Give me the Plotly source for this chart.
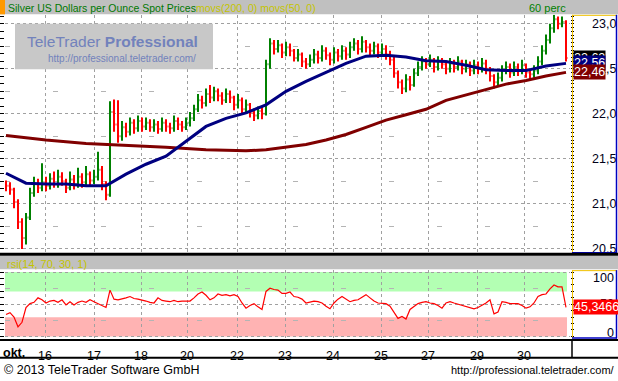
import plotly.graph_objects as go

W, H = 618, 381
FONT = "Liberation Sans"

# ---------------- data ----------------
bar_pos = list(range(141))
open_ = [21.22,21.20,21.16,21.02,20.80,20.62,20.85,21.12,21.22,21.18,
         21.24,21.20,21.28,21.22,21.30,21.25,21.18,21.27,21.22,21.30,
         21.24,21.33,21.26,21.30,21.38,21.22,21.10,22.02,21.88,21.75,
         21.85,21.80,21.90,21.84,21.92,21.86,21.90,21.85,21.88,21.83,
         21.90,21.86,21.84,21.92,21.88,21.85,21.90,21.95,22.05,22.15,
         22.12,22.22,22.18,22.25,22.20,22.15,22.22,22.18,22.10,22.15,
         22.05,22.10,22.02,21.98,22.03,22.00,22.55,22.78,22.72,22.76,
         22.68,22.74,22.70,22.62,22.66,22.58,22.55,22.60,22.66,22.62,
         22.70,22.65,22.60,22.68,22.64,22.70,22.66,22.74,22.78,22.72,
         22.80,22.74,22.70,22.75,22.68,22.72,22.66,22.60,22.45,22.35,
         22.28,22.38,22.32,22.45,22.52,22.58,22.55,22.60,22.52,22.58,
         22.55,22.50,22.56,22.52,22.58,22.50,22.55,22.48,22.54,22.50,
         22.56,22.50,22.42,22.35,22.40,22.48,22.52,22.46,22.52,22.48,
         22.54,22.46,22.44,22.48,22.58,22.70,22.82,22.95,23.05,23.00,
         23.02]
high = [21.26,21.24,21.18,21.05,20.84,20.90,21.18,21.30,21.28,21.45,
        21.30,21.34,21.36,21.38,21.35,21.28,21.36,21.32,21.40,21.34,
        21.42,21.36,21.38,21.58,21.42,21.25,22.14,22.16,22.15,21.92,
        21.90,21.96,21.94,21.98,21.96,21.96,21.94,21.94,21.92,21.96,
        21.94,21.90,21.98,21.96,21.92,21.96,22.02,22.10,22.22,22.20,
        22.28,22.32,22.30,22.28,22.24,22.28,22.26,22.20,22.22,22.18,
        22.16,22.12,22.06,22.08,22.08,22.60,22.84,22.82,22.82,22.78,
        22.80,22.78,22.72,22.72,22.68,22.62,22.66,22.72,22.70,22.76,
        22.74,22.68,22.74,22.72,22.76,22.74,22.80,22.84,22.82,22.86,
        22.82,22.78,22.80,22.78,22.78,22.76,22.70,22.64,22.48,22.38,
        22.44,22.42,22.50,22.58,22.64,22.62,22.66,22.62,22.64,22.62,
        22.58,22.62,22.60,22.64,22.60,22.60,22.58,22.60,22.58,22.62,
        22.60,22.52,22.44,22.46,22.54,22.58,22.56,22.58,22.56,22.60,
        22.56,22.50,22.54,22.64,22.76,22.88,23.00,23.10,23.08,23.08,
        23.04]
low = [21.14,21.10,20.95,20.72,20.50,20.55,20.82,21.08,21.12,21.14,
       21.14,21.16,21.18,21.18,21.20,21.12,21.15,21.16,21.18,21.18,
       21.20,21.20,21.22,21.26,21.15,21.04,21.08,21.80,21.68,21.70,
       21.74,21.76,21.78,21.80,21.80,21.82,21.80,21.80,21.78,21.80,
       21.80,21.78,21.80,21.82,21.80,21.82,21.86,21.92,22.02,22.06,
       22.08,22.12,22.14,22.14,22.10,22.12,22.12,22.04,22.06,22.00,
       22.00,21.96,21.92,21.94,21.94,21.98,22.50,22.66,22.68,22.62,
       22.64,22.64,22.58,22.58,22.52,22.50,22.52,22.56,22.56,22.58,
       22.60,22.54,22.56,22.58,22.60,22.60,22.62,22.70,22.66,22.68,
       22.68,22.64,22.66,22.62,22.64,22.60,22.54,22.40,22.28,22.22,
       22.24,22.26,22.30,22.42,22.48,22.50,22.52,22.46,22.48,22.50,
       22.44,22.46,22.46,22.48,22.44,22.46,22.42,22.44,22.44,22.46,
       22.44,22.36,22.28,22.30,22.36,22.44,22.40,22.42,22.42,22.44,
       22.40,22.38,22.40,22.44,22.54,22.66,22.78,22.90,22.94,22.96,
       22.58]
close = [21.20,21.16,21.02,20.80,20.62,20.85,21.12,21.22,21.18,21.24,
         21.20,21.28,21.22,21.30,21.25,21.18,21.27,21.22,21.30,21.24,
         21.33,21.26,21.30,21.38,21.22,21.10,22.02,21.88,21.75,21.85,
         21.80,21.90,21.84,21.92,21.86,21.90,21.85,21.88,21.83,21.90,
         21.86,21.84,21.92,21.88,21.85,21.90,21.95,22.05,22.15,22.12,
         22.22,22.18,22.25,22.20,22.15,22.22,22.18,22.10,22.15,22.05,
         22.10,22.02,21.98,22.03,22.00,22.55,22.78,22.72,22.76,22.68,
         22.74,22.70,22.62,22.66,22.58,22.55,22.60,22.66,22.62,22.70,
         22.65,22.60,22.68,22.64,22.70,22.66,22.74,22.78,22.72,22.80,
         22.74,22.70,22.75,22.68,22.72,22.66,22.60,22.45,22.35,22.28,
         22.38,22.32,22.45,22.52,22.58,22.55,22.60,22.52,22.58,22.55,
         22.50,22.56,22.52,22.58,22.50,22.55,22.48,22.54,22.50,22.56,
         22.50,22.42,22.35,22.40,22.48,22.52,22.46,22.52,22.48,22.54,
         22.46,22.44,22.48,22.58,22.70,22.82,22.95,23.05,23.00,23.02,
         22.62]

ma50_pos = [0,5,10,15,20,25,30,35,40,45,50,55,60,65,70,75,80,85,90,95,
            100,105,110,115,120,125,130,135,140]
ma50 = [21.34,21.23,21.22,21.22,21.20,21.20,21.33,21.44,21.53,21.70,
        21.86,21.95,22.01,22.10,22.25,22.36,22.46,22.56,22.64,22.65,
        22.63,22.59,22.58,22.54,22.49,22.48,22.48,22.53,22.56]

ma200_pos = [0,10,20,30,40,50,60,65,70,75,80,85,90,95,100,105,110,115,
             120,125,130,135,140]
ma200 = [21.76,21.71,21.67,21.65,21.63,21.60,21.59,21.60,21.63,21.66,
         21.71,21.77,21.85,21.93,21.99,22.05,22.15,22.21,22.27,22.33,
         22.37,22.42,22.46]

rsi = [34,37,30,15,22,45,51,53,60,57,
       52,55,56,53,57,49,54,49,53,55,
       53,57,54,51,48,45,72,58,57,58,
       60,62,59,58,57,55,53,52,60,56,
       55,54,56,54,55,55,55,60,66,69,
       64,57,60,66,64,65,63,65,62,52,
       44,48,51,46,42,70,75,73,72,67,
       67,69,62,61,58,52,53,55,54,52,
       47,43,52,58,62,58,54,56,57,61,
       65,60,55,52,51,51,47,38,28,31,
       27,42,47,51,53,54,52,51,48,44,
       52,54,52,50,48,46,44,43,45,48,
       52,57,35,38,54,53,51,51,51,48,
       44,46,52,62,65,66,74,80,77,77,
       45.3466]

day_tick_pos = [9.75, 22, 33.75, 45.25, 57.75, 69.75, 81.75, 93.75, 105.5, 117.75, 129.5]
day_tick_text = ["16", "17", "18", "20", "22", "23", "24", "25", "27", "29", "30"]
month_label = "okt."

last_close = 22.62
last_ma50 = 22.56
last_ma200 = 22.46
last_rsi = 45.3466

title_text = "Silver US Dollars per Ounce Spot Prices"
ind_text = "movs(200, 0) movs(50, 0)"
period_text = "60 perc"
rsi_title = "rsi(14, 70, 30, 1)"


def px(x):
    return x / W


def py(y):
    return 1 - y / H


def dec(v, n):
    return f"{v:.{n}f}".replace(".", ",")


GRID = "#a0a0a0"
GREEN = "#008000"
RED = "#ff0000"
NAVY = "#000080"
MAROON = "#800000"
OLIVE = "#c4c400"
YEL = "#f0c000"
BLUE = "#0000c0"

fig = go.Figure()

fig.add_trace(go.Ohlc(
    x=bar_pos, open=open_, high=high, low=low, close=close,
    xaxis="x", yaxis="y",
    increasing=dict(line=dict(color=GREEN, width=2)),
    decreasing=dict(line=dict(color=RED, width=2)),
    tickwidth=0.35, showlegend=False, hoverinfo="skip"))
fig.add_trace(go.Scatter(x=ma200_pos, y=ma200, mode="lines", line=dict(color=MAROON, width=3),
                         xaxis="x", yaxis="y", showlegend=False, hoverinfo="skip"))
fig.add_trace(go.Scatter(x=ma50_pos, y=ma50, mode="lines", line=dict(color=NAVY, width=3),
                         xaxis="x", yaxis="y", showlegend=False, hoverinfo="skip"))
fig.add_trace(go.Scatter(x=bar_pos, y=rsi, mode="lines", line=dict(color=RED, width=1.2),
                         xaxis="x2", yaxis="y2", showlegend=False, hoverinfo="skip"))
# invisible carriers for the tick-only axes
for ya, yy in (("y3", close), ("y4", close), ("y5", rsi), ("y6", rsi)):
    xa = "x" if ya in ("y3", "y4") else "x2"
    fig.add_trace(go.Scatter(x=bar_pos, y=yy, mode="lines", line=dict(width=0), opacity=0,
                             xaxis=xa, yaxis=ya, showlegend=False, hoverinfo="skip"))

main_range = [20.462, 23.099]
rsi_range = [-3.1, 103.1]
xr = [-0.25, 141]

xaxis_common = dict(range=xr, tickvals=day_tick_pos, showgrid=True, gridcolor=GRID,
                    griddash="dot", gridwidth=1, zeroline=False, showline=False, ticks="",
                    fixedrange=True)

fig.update_layout(
    width=W, height=H, margin=dict(l=0, r=0, t=0, b=0),
    paper_bgcolor="white", plot_bgcolor="white",
    separators=",.", showlegend=False,
    font=dict(family=FONT, size=12, color="black"),
    xaxis=dict(domain=[px(5), px(570)], anchor="y", showticklabels=False,
               rangeslider=dict(visible=False), **xaxis_common),
    xaxis2=dict(domain=[px(5), px(570)], anchor="y2", matches="x", showticklabels=True,
                ticktext=day_tick_text, tickfont=dict(size=12.5, color="black"),
                ticklabelstandoff=8, **xaxis_common),
    yaxis=dict(domain=[py(255), py(15)], anchor="x", range=main_range, side="right",
               tick0=20.5, dtick=0.5, tickformat=".1f", ticks="",
               tickfont=dict(size=12.5, color="#000018"), ticklabelstandoff=21,
               showgrid=True, gridcolor=GRID, griddash="dot", zeroline=False,
               minor=dict(tick0=20.5, dtick=0.25, showgrid=True, gridcolor="#b4b4b4",
                          griddash="5px,43px", ticks=""),
               fixedrange=True),
    yaxis3=dict(overlaying="y", anchor="x", side="left", range=main_range, tick0=23.0,
                dtick=0.0833, ticks="outside", ticklen=4, tickcolor="black", tickwidth=1,
                showticklabels=False, showgrid=False, zeroline=False, fixedrange=True),
    yaxis4=dict(overlaying="y", anchor="x", side="right", range=main_range, tick0=23.0,
                dtick=0.0417, ticks="outside", ticklen=3, tickcolor="black", tickwidth=1,
                showticklabels=False, showgrid=False, zeroline=False, fixedrange=True),
    yaxis2=dict(domain=[py(342), py(273)], anchor="x2", range=rsi_range,
                tickvals=[0, 50, 100], showticklabels=False, ticks="",
                showgrid=True, gridcolor=GRID, griddash="dot", zeroline=False,
                minor=dict(tickvals=[25, 75], showgrid=True, gridcolor="#b4b4b4",
                           griddash="5px,43px", ticks=""),
                fixedrange=True),
    yaxis5=dict(overlaying="y2", anchor="x2", side="left", range=rsi_range, tick0=0,
                dtick=10, ticks="outside", ticklen=4, tickcolor="black",
                showticklabels=False, showgrid=False, zeroline=False, fixedrange=True),
    yaxis6=dict(overlaying="y2", anchor="x2", side="right", range=rsi_range, tick0=0,
                dtick=10, ticks="outside", ticklen=3, tickcolor="black",
                showticklabels=False, showgrid=False, zeroline=False, fixedrange=True),
)

shapes = []


def rect(x0, y0, x1, y1, fill, layer="above"):
    shapes.append(dict(type="rect", xref="paper", yref="paper", x0=px(x0), x1=px(x1),
                       y0=py(y1), y1=py(y0), fillcolor=fill, line=dict(width=0), layer=layer))


def line(x0, y0, x1, y1, color, width=1):
    shapes.append(dict(type="line", xref="paper", yref="paper", x0=px(x0), x1=px(x1),
                       y0=py(y0), y1=py(y1), line=dict(color=color, width=width), layer="above"))


# RSI bands (data coords on y2)
for lo_, hi_, col in ((70, 100, "#b3ffb3"), (0, 30, "#ffb3b3")):
    shapes.append(dict(type="rect", xref="paper", yref="y2", x0=px(5), x1=px(567),
                       y0=lo_, y1=hi_, fillcolor=col, line=dict(width=0), layer="below"))

# title bars
rect(0, 0, 618, 14.5, "#c0c0c0")
rect(0, 0, 5, 14.5, "#ff9900")
rect(0, 258.5, 618, 272, "#c0c0c0")
# right panels
rect(572, 15, 617, 256, "white", layer="below")
line(572.5, 15, 572.5, 256, YEL, 1)
line(572, 15.5, 617, 15.5, YEL, 1)
line(616.5, 15, 616.5, 256, BLUE, 1.5)
line(572, 255.5, 617, 255.5, BLUE, 1.5)
rect(572, 273, 617, 342, "white", layer="below")
line(572.5, 273, 572.5, 342, YEL, 1)
line(572, 273.5, 617, 273.5, YEL, 1)
line(616.5, 273, 616.5, 342, BLUE, 1.5)
line(572, 341.5, 617, 341.5, BLUE, 1.5)
# separators
line(0, 257, 618, 257, "black", 3)
line(0, 343.5, 618, 343.5, "black", 2)
line(0, 361.5, 618, 361.5, "black", 2)
line(572, 343, 572, 361, "black", 1.5)
# watermark box
rect(15, 24, 213, 70, "#c8c8c8")

annotations = []


def text(x, y, s, size=12, color="black", xanchor="left", bold=False, **kw):
    annotations.append(dict(x=px(x), y=py(y), xref="paper", yref="paper", text=f"<b>{s}</b>" if bold else s,
                            showarrow=False, xanchor=xanchor, yanchor="middle",
                            font=dict(family=FONT, size=size, color=color), **kw))


text(6, 8, title_text, size=10.5, color="#007800")
text(194, 8, ind_text, size=10.5, color=OLIVE)
text(568, 8, period_text, size=11, color="#008000", xanchor="right")
text(5, 267, rsi_title, size=11, color=OLIVE)
text(112, 42, "TeleTrader <b>Professional</b>", size=15.5, color="#7282bc", xanchor="center")
text(122, 59, "http://professional.teletrader.com/", size=10, color="#7282bc", xanchor="center")
text(1, 356.5, month_label, size=12.5, bold=True)
text(2, 374, "© 2013 TeleTrader Software GmbH", size=12.5)
text(617, 374, "http://professional.teletrader.com/", size=11, xanchor="right")
# RSI scale labels
text(616, 281, "100", size=12.5, color="#000018", xanchor="right")
text(616, 307, "50", size=12.5, color="#000018", xanchor="right")
text(616, 337, "0", size=12.5, color="#000018", xanchor="right")

# value tags
for val, bg in ((last_close, "black"), (last_ma50, NAVY), (last_ma200, MAROON)):
    annotations.append(dict(x=px(573), xref="paper", y=val, yref="y", text=dec(val, 2),
                            showarrow=False, xanchor="left", yanchor="middle", bgcolor=bg,
                            borderpad=0, font=dict(family=FONT, size=12.5, color="white")))
annotations.append(dict(x=px(573), xref="paper", y=last_rsi, yref="y2", text=dec(last_rsi, 4),
                        showarrow=False, xanchor="left", yanchor="middle", bgcolor=RED,
                        borderpad=0, font=dict(family=FONT, size=12.5, color="white")))

fig.update_layout(shapes=shapes, annotations=annotations)
fig.write_html("out.html", config={"displayModeBar": False},
               post_script="document.body.style.margin='0';document.body.style.overflow='hidden';")
